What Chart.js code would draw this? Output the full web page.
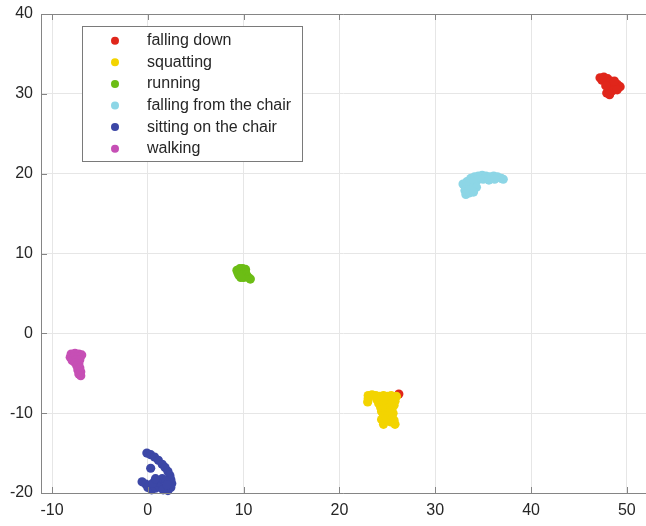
<!DOCTYPE html>
<html>
<head>
<meta charset="utf-8">
<script src="https://cdn.jsdelivr.net/npm/chart.js@4.4.0/dist/chart.umd.min.js"></script>
<style>
  body { margin: 0; background: #fff; }
  #wrap { width: 646px; height: 526px; }
</style>
</head>
<body>
<div id="wrap"><canvas id="chart" width="646" height="526"></canvas></div>
<script>
// Class names and colours, in legend order
const classNames = ['falling down', 'squatting', 'running', 'falling from the chair', 'sitting on the chair', 'walking'];
const classColors = ['#e0261b', '#f3d400', '#6cbd15', '#8dd6e6', '#3c47a6', '#c64fb5'];

// Embedded points [x, y]
const fallingDown = [
    [47.2, 32.0], [47.6, 32.1], [48.0, 31.9], [47.4, 31.7], [47.9, 31.5], [48.3, 31.6],
    [48.6, 31.3], [49.0, 31.2], [49.3, 30.9], [48.8, 30.8], [48.4, 30.9], [48.1, 30.6],
    [48.5, 30.4], [49.0, 30.5], [47.9, 30.1], [48.2, 29.9], [47.8, 31.0], [48.7, 31.6],
    [26.2, -7.6]
];
const squatting = [
    [23.0, -7.8], [23.4, -7.7], [23.8, -7.8], [24.2, -7.9], [24.6, -7.8], [25.0, -7.9],
    [25.4, -7.8], [25.95, -7.9], [23.0, -8.2], [22.95, -8.6],
    [23.9, -8.3], [24.3, -8.3], [24.7, -8.4], [25.1, -8.3], [25.5, -8.3], [25.8, -8.5],
    [24.1, -8.8], [24.5, -8.9], [24.9, -8.8], [25.3, -8.9], [25.7, -9.0],
    [24.3, -9.3], [24.7, -9.4], [25.1, -9.3], [25.5, -9.4],
    [24.4, -9.8], [24.8, -9.9], [25.2, -9.8], [25.6, -10.0],
    [24.6, -10.3], [25.0, -10.4], [25.5, -10.5],
    [24.4, -10.8], [24.8, -10.9], [25.4, -11.1], [25.7, -10.9],
    [24.6, -11.4], [25.8, -11.4]
];
const running = [
    [9.3, 7.9], [9.6, 8.1], [9.9, 8.1], [10.2, 8.0], [9.4, 7.6], [9.8, 7.7], [10.2, 7.6],
    [9.5, 7.3], [9.9, 7.3], [10.3, 7.3], [10.0, 7.0], [10.5, 7.0], [10.7, 6.8], [9.7, 7.0]
];
const fallingFromChair = [
    [33.3, 19.0], [33.7, 19.4], [34.1, 19.6], [34.5, 19.7], [34.9, 19.8], [35.3, 19.7],
    [35.7, 19.6], [36.1, 19.7], [36.5, 19.6], [36.9, 19.4], [37.1, 19.3],
    [34.4, 19.2], [35.0, 19.3], [35.6, 19.2], [36.2, 19.3],
    [32.9, 18.7], [33.2, 18.3], [33.6, 18.6], [34.0, 18.9], [33.1, 17.9], [33.5, 18.0],
    [33.9, 18.2], [34.3, 18.3], [33.2, 17.4], [33.6, 17.6], [34.0, 17.7]
];
const sittingOnChair = [
    [-0.1, -15.0], [0.3, -15.2], [0.7, -15.5], [1.1, -15.9], [1.5, -16.4], [1.8, -16.8],
    [2.1, -17.3], [2.3, -17.8], [2.4, -18.3], [2.5, -18.8], [2.4, -19.3], [2.1, -19.7],
    [0.3, -16.9],
    [-0.6, -18.6], [-0.2, -18.9], [0.0, -19.3], [0.4, -19.6], [0.8, -19.4], [1.2, -19.2],
    [1.1, -18.6], [1.6, -19.6], [1.5, -18.2], [1.9, -18.5], [2.0, -19.0], [0.5, -18.8], [0.8, -18.2]
];
const walking = [
    [-8.0, -2.6], [-7.6, -2.5], [-7.2, -2.6], [-6.9, -2.7], [-8.1, -3.0], [-7.7, -2.9],
    [-7.3, -3.0], [-7.9, -3.4], [-7.5, -3.3], [-7.1, -3.3], [-7.6, -3.7], [-7.2, -3.8],
    [-7.4, -4.1], [-7.1, -4.3], [-7.3, -4.6], [-7.0, -4.8], [-7.2, -5.1], [-7.0, -5.3]
];

const xTicks = [-10, 0, 10, 20, 30, 40, 50];
const yTicks = [-20, -10, 0, 10, 20, 30, 40];

const seriesPoints = [fallingDown, squatting, running, fallingFromChair, sittingOnChair, walking];

const tickFont = { family: '"Liberation Sans", Arial, sans-serif', size: 16 };
const frameColor = '#858585';

// Box around the axes with inward tick marks, MATLAB style
const frameBox = {
    id: 'frameBox',
    afterDraw(chart) {
        const ctx = chart.ctx;
        const { left, right, top, bottom } = chart.chartArea;
        const xs = chart.scales.x, ys = chart.scales.y;
        ctx.save();
        ctx.strokeStyle = frameColor;
        ctx.lineWidth = 1;
        ctx.beginPath();
        ctx.moveTo(left + 0.5, top + 0.5);
        ctx.lineTo(right, top + 0.5);
        ctx.moveTo(left + 0.5, top + 0.5);
        ctx.lineTo(left + 0.5, bottom + 0.5);
        ctx.lineTo(right, bottom + 0.5);
        xTicks.forEach(v => {
            const px = Math.round(xs.getPixelForValue(v)) + 0.5;
            ctx.moveTo(px, bottom);
            ctx.lineTo(px, bottom - 6);
            ctx.moveTo(px, top);
            ctx.lineTo(px, top + 6);
        });
        yTicks.forEach(v => {
            const py = Math.round(ys.getPixelForValue(v)) + 0.5;
            ctx.moveTo(left, py);
            ctx.lineTo(left + 6, py);
        });
        ctx.stroke();
        ctx.restore();
    }
};

// Legend drawn inside the axes with a white box
const boxLegend = {
    id: 'boxLegend',
    afterDraw(chart) {
        const ctx = chart.ctx;
        ctx.save();
        ctx.fillStyle = '#fff';
        ctx.fillRect(82.5, 26.5, 220, 135);
        ctx.strokeStyle = '#7a7a7a';
        ctx.lineWidth = 1;
        ctx.strokeRect(82.5, 26.5, 220, 135);
        ctx.font = '16px "Liberation Sans", Arial, sans-serif';
        ctx.textBaseline = 'middle';
        chart.data.datasets.forEach((ds, i) => {
            const y = 40.7 + i * 21.6;
            ctx.fillStyle = ds.backgroundColor;
            ctx.beginPath();
            ctx.arc(115, y, 4, 0, Math.PI * 2);
            ctx.fill();
            ctx.fillStyle = '#262626';
            ctx.fillText(ds.label, 147, y);
        });
        ctx.restore();
    }
};

const datasets = classNames.map((name, i) => ({
    label: name,
    data: seriesPoints[i].map(([x, y]) => ({ x: x, y: y })),
    backgroundColor: classColors[i],
    borderWidth: 0,
    pointRadius: 4.6,
    pointHoverRadius: 4.6,
    clip: false,
    order: i === 0 ? 10 : 0 // red sits under the yellow cluster
}));

new Chart(document.getElementById('chart').getContext('2d'), {
    type: 'scatter',
    data: { datasets: datasets },
    options: {
        responsive: false,
        animation: false,
        devicePixelRatio: 1,
        layout: { autoPadding: false, padding: { top: 14, right: 0, bottom: 0, left: 0 } },
        plugins: {
            legend: { display: false },
            tooltip: { enabled: false }
        },
        scales: {
            x: {
                type: 'linear',
                min: -11.15,
                max: 52,
                afterBuildTicks: s => { s.ticks = xTicks.map(v => ({ value: v })); },
                afterFit: s => { s.height = 33; s.paddingLeft = 0; s.paddingRight = 0; },
                grid: { color: '#e6e6e6', drawTicks: false },
                border: { display: false },
                ticks: { font: tickFont, color: '#262626', padding: 8, maxRotation: 0, autoSkip: false }
            },
            y: {
                type: 'linear',
                min: -20,
                max: 40,
                afterBuildTicks: s => { s.ticks = yTicks.map(v => ({ value: v })); },
                afterFit: s => { s.width = 41; s.paddingTop = 0; s.paddingBottom = 0; },
                grid: { color: '#e6e6e6', drawTicks: false },
                border: { display: false },
                ticks: { font: tickFont, color: '#262626', padding: 8, autoSkip: false }
            }
        }
    },
    plugins: [frameBox, boxLegend]
});
</script>
</body>
</html>
